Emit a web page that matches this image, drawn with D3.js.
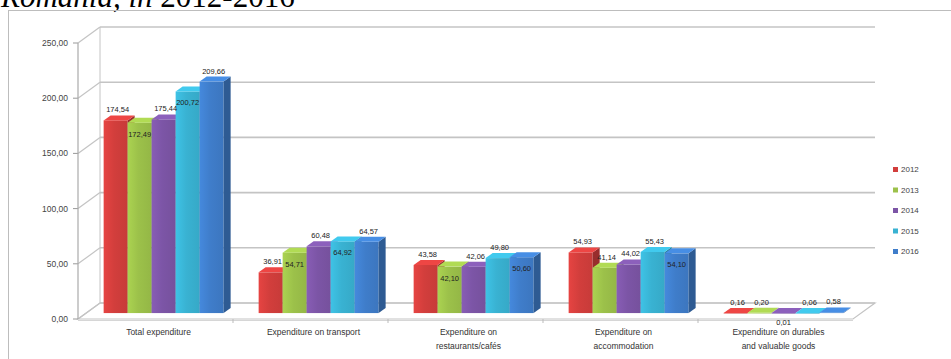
<!DOCTYPE html>
<html>
<head>
<meta charset="utf-8">
<script src="https://cdn.jsdelivr.net/npm/d3@7"></script>
<style>
  body { margin: 0; background: #fff; }
  svg { display: block; }
</style>
</head>
<body>
<div id="chart"></div>
<script>
// data
var categories = ["Total expenditure", "Expenditure on transport", "Expenditure on restaurants/cafés",
                  "Expenditure on accommodation", "Expenditure on durables and valuable goods"];
var catLines = [["Total expenditure"], ["Expenditure on transport"], ["Expenditure on", "restaurants/cafés"],
                ["Expenditure on", "accommodation"], ["Expenditure on durables", "and valuable goods"]];
var years = ["2012", "2013", "2014", "2015", "2016"];
var v2012 = [174.54, 36.91, 43.58, 54.93, 0.16];
var v2013 = [172.49, 54.71, 42.10, 41.14, 0.20];
var v2014 = [175.44, 60.48, 42.06, 44.02, 0.01];
var v2015 = [200.72, 64.92, 49.80, 55.43, 0.06];
var v2016 = [209.66, 64.57, 50.60, 54.10, 0.58];
var yTicks = [0, 50, 100, 150, 200, 250];
var series = [v2012, v2013, v2014, v2015, v2016];

// labels Excel put inside the bar (category index + year)
var insideLabels = ["0-2013", "0-2015", "1-2013", "1-2015", "2-2013", "2-2016", "4-2014", "3-2016"];

var colors = { "2012": "#D23E3C", "2013": "#9CC14A", "2014": "#7C55A6", "2015": "#39B2D2", "2016": "#3F7DCA" };

var W = 951, H = 359;
var x0 = 78, x1 = 853, y0 = 319, yTop = 43;
var dX = 22, dY = 16;          // depth of the 3d box
var barZ = 0.37;               // where bar fronts sit in the depth
var bdX = 7, bdY = 5;          // bar depth

var svg = d3.select("#chart").append("svg").attr("width", W).attr("height", H);
var defs = svg.append("defs");

years.forEach(function(y) {
    var c = d3.color(colors[y]);
    var g = defs.append("linearGradient").attr("id", "g" + y).attr("x1", 0).attr("x2", 1).attr("y1", 0).attr("y2", 0);
    g.append("stop").attr("offset", "0%").attr("stop-color", c.brighter(0.25));
    g.append("stop").attr("offset", "45%").attr("stop-color", c);
    g.append("stop").attr("offset", "100%").attr("stop-color", c.darker(0.15));
});

// title (cut off at the top of the picture)
var title = svg.append("text").attr("x", 1).attr("y", 7)
    .style("font-family", "Liberation Serif, Times New Roman, serif").style("font-size", "31px").attr("fill", "#000");
title.append("tspan").style("font-style", "italic").text("Romania, in ");
title.append("tspan").text("2012-2016");

// chart border
svg.append("rect").attr("x", 8.5).attr("y", 10.5).attr("width", 960).attr("height", 360)
    .attr("fill", "none").attr("stroke", "#bdbdbd");

var yScale = d3.scaleLinear().domain([0, 250]).range([y0, yTop]);
var xScale = d3.scaleBand().domain(categories).range([x0, x1]);
var xIn = d3.scaleBand().domain(years).range([17.5, 137.5]);

var gridCol = "#c4c4c4";

// floor
svg.append("path")
    .attr("d", "M" + x0 + "," + y0 + "L" + x1 + "," + y0 + "L" + (x1 + dX) + "," + (y0 - dY) + "L" + (x0 + dX) + "," + (y0 - dY) + "Z")
    .attr("fill", "#fff").attr("stroke", gridCol).attr("stroke-width", 1.2);
svg.append("line").attr("x1", x0).attr("x2", x1).attr("y1", y0 + 1.5).attr("y2", y0 + 1.5)
    .attr("stroke", "#d6d6d6");

// walls: gridlines on back wall + diagonals on the side wall
var grid = svg.append("g");
yTicks.forEach(function(t) {
    var y = yScale(t);
    grid.append("line").attr("x1", x0).attr("y1", y).attr("x2", x0 + dX).attr("y2", y - dY)
        .attr("stroke", gridCol).attr("stroke-width", 1.2);
    grid.append("line").attr("x1", x0 + dX).attr("y1", y - dY).attr("x2", x1 + dX).attr("y2", y - dY)
        .attr("stroke", gridCol).attr("stroke-width", 1.6);
    grid.append("line").attr("x1", x0 - 5).attr("y1", y).attr("x2", x0).attr("y2", y)
        .attr("stroke", "#999");
});
grid.append("line").attr("x1", x0).attr("y1", yTop).attr("x2", x0).attr("y2", y0).attr("stroke", "#aaa").attr("stroke-width", 1.2);
grid.append("line").attr("x1", x0 + dX).attr("y1", yTop - dY).attr("x2", x0 + dX).attr("y2", y0 - dY).attr("stroke", gridCol);

// y labels
svg.append("g").selectAll("text").data(yTicks).enter().append("text")
    .attr("x", x0 - 10).attr("y", function(d) { return yScale(d) + 3; })
    .attr("text-anchor", "end")
    .style("font-family", "Liberation Sans, Arial, sans-serif").style("font-size", "8.5px").attr("fill", "#444")
    .text(function(d) { return d3.format(".2f")(d).replace(".", ","); });

// category ticks on the front edge
svg.append("g").selectAll("line").data(categories.slice(1)).enter().append("line")
    .attr("x1", function(d) { return xScale(d); }).attr("x2", function(d) { return xScale(d); })
    .attr("y1", y0).attr("y2", y0 + 4).attr("stroke", "#bbb");

// bars
var ox = barZ * dX, oy = barZ * dY;
var bw = xIn.bandwidth();
var bars = svg.append("g");
var labels = [];
categories.forEach(function(cat, ci) {
    years.forEach(function(yr, si) {
        var v = series[si][ci];
        var xl = xScale(cat) + xIn(yr) + ox;
        var xr = xl + bw;
        var yb = y0 - oy;
        var yt = yScale(v) - oy;
        var c = d3.color(colors[yr]);
        // front
        bars.append("rect").attr("x", xl).attr("y", yt).attr("width", bw).attr("height", Math.max(yb - yt, 0.6))
            .attr("fill", "url(#g" + yr + ")");
        // side
        bars.append("path")
            .attr("d", "M" + xr + "," + yt + "L" + (xr + bdX) + "," + (yt - bdY) + "L" + (xr + bdX) + "," + (yb - bdY) + "L" + xr + "," + yb + "Z")
            .attr("fill", c.darker(0.9));
        // top
        bars.append("path")
            .attr("d", "M" + xl + "," + yt + "L" + xr + "," + yt + "L" + (xr + bdX) + "," + (yt - bdY) + "L" + (xl + bdX) + "," + (yt - bdY) + "Z")
            .attr("fill", c.brighter(0.35));
        var inside = insideLabels.indexOf(ci + "-" + yr) >= 0;
        labels.push({
            x: xl + bw / 2 + (inside ? 0 : 2),
            y: inside ? (ci == 4 ? yb + 12 : yt + 14) : yt - bdY - 3,
            t: d3.format(".2f")(v).replace(".", ",")
        });
    });
});

svg.append("g").selectAll("text").data(labels).enter().append("text")
    .attr("x", function(d) { return d.x; }).attr("y", function(d) { return d.y; })
    .attr("text-anchor", "middle")
    .style("font-family", "Liberation Sans, Arial, sans-serif").style("font-size", "7.5px").attr("fill", "#222")
    .text(function(d) { return d.t; });

// category labels
var cl = svg.append("g");
categories.forEach(function(cat, ci) {
    var cx = xScale(cat) + xScale.bandwidth() / 2 + 3;
    catLines[ci].forEach(function(line, li) {
        cl.append("text").attr("x", cx).attr("y", 335 + li * 14)
            .attr("text-anchor", "middle")
            .style("font-family", "Liberation Sans, Arial, sans-serif").style("font-size", "8.5px").attr("fill", "#333")
            .text(line);
    });
});

// legend
var lg = svg.append("g").attr("transform", "translate(893,172)");
years.forEach(function(yr, i) {
    lg.append("rect").attr("x", 0).attr("y", i * 20.5 - 5).attr("width", 5).attr("height", 5).attr("fill", colors[yr]);
    lg.append("text").attr("x", 8).attr("y", i * 20.5)
        .style("font-family", "Liberation Sans, Arial, sans-serif").style("font-size", "8px").attr("fill", "#444")
        .text(yr);
});
</script>
</body>
</html>
